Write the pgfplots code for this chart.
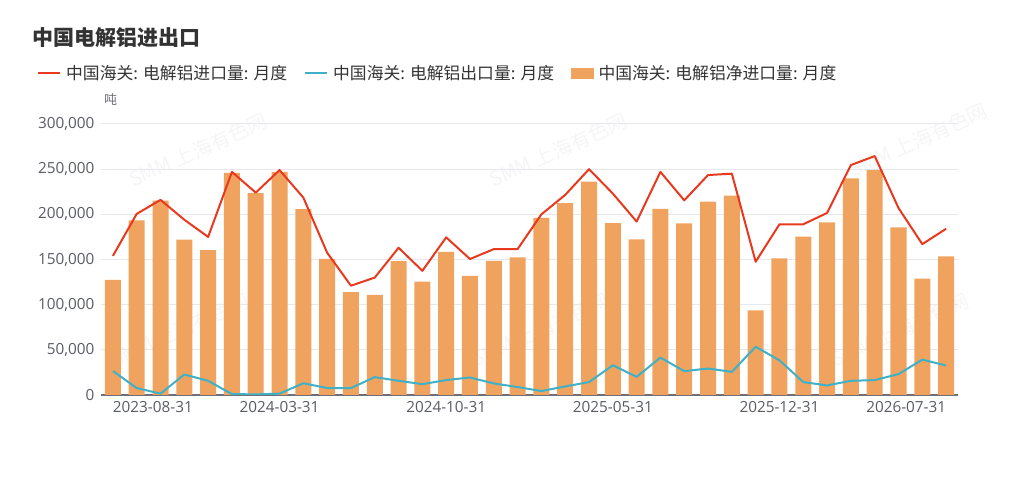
\documentclass[border=0pt]{standalone}
\usepackage{fontspec}
\usepackage{pgfplots}
\pgfplotsset{compat=1.18}
\setmainfont{Open Sans}
\newfontfamily\cjk{Noto Sans CJK SC}
\definecolor{cred}{HTML}{E8391E}
\definecolor{cblue}{HTML}{3EB1C8}
\definecolor{cbar}{HTML}{F0A35E}
\definecolor{cgrid}{HTML}{E6E8EE}
\definecolor{caxis}{HTML}{6E7079}
\definecolor{ctick}{HTML}{5A5C64}
\definecolor{ctext}{HTML}{333333}
\begin{document}
\begin{tikzpicture}
\path[use as bounding box] (0pt,0pt) rectangle (1024pt,478pt);
% watermarks
\foreach \cx/\cy in {198/328, 558/328, 918/338, 180/148, 540/148, 900/148}{
  \node[rotate=24, text=black!4, font=\cjk\fontsize{20}{22}\selectfont] at (\cx pt,\cy pt) {SMM 上海有色网};
}
\node[anchor=west, text=ctext, font=\cjk\bfseries\fontsize{21}{24}\selectfont] at (29pt,440pt) {中国电解铝进出口};
\node[anchor=west, text=caxis, font=\cjk\fontsize{13}{15}\selectfont, inner sep=0pt] at (104pt,378pt) {吨};
\begin{axis}[
  at={(101pt,83pt)}, anchor=south west,
  scale only axis, width=857pt, height=271pt,
  xmin=-0.5, xmax=35.5, ymin=0, ymax=300000,
  axis x line*=bottom, axis y line*=left,
  x axis line style={draw=caxis, line width=1.3pt},
  y axis line style={draw=none},
  major tick length=0pt,
  ytick={0,50000,...,300000},
  scaled y ticks=false,
  /pgf/number format/fixed,
  /pgf/number format/1000 sep={,},
  /pgf/number format/assume math mode=true,
  yticklabel style={font=\fontsize{15.3}{17}\selectfont, text=ctick, xshift=-3pt},
  ymajorgrids, grid style={draw=cgrid, line width=1pt},
  xtick={0,7,14,21,28,35},
  xticklabels={\makebox[0pt][l]{2023-08-31},2024-03-31,2024-10-31,2025-05-31,2025-12-31,\makebox[0pt][r]{2026-07-31}},
  xticklabel style={font=\fontsize{15.3}{17}\selectfont, text=ctick, yshift=-3pt},
  legend columns=3,
  legend style={at={(-0.0747,1.1882)}, anchor=west, draw=none, fill=none, inner sep=0pt,
    font=\cjk\fontsize{16.8}{19}\selectfont, text=ctext,
    nodes={inner xsep=5pt, inner ysep=1pt},
    /tikz/every even column/.append style={column sep=12pt}},
  legend cell align=left,
]
\addplot[ybar, bar width=16pt, fill=cbar, draw=none, forget plot] coordinates {
(0,127400)(1,193200)(2,215200)(3,172000)(4,160300)(5,246000)(6,223600)(7,247000)(8,205700)(9,150800)
(10,113800)(11,110900)(12,148200)(13,125500)(14,158500)(15,131800)(16,148600)(17,152300)(18,196200)(19,212300)
(20,236100)(21,190300)(22,172400)(23,206100)(24,190000)(25,214100)(26,220700)(27,93700)(28,151200)(29,175300)
(30,191000)(31,239700)(32,249200)(33,185600)(34,128800)(35,153400)};
\addplot[cblue, line width=2pt, line join=round, no marks, forget plot] coordinates {
(0,26500)(1,7700)(2,1500)(3,22700)(4,15700)(5,1000)(6,700)(7,1500)(8,13000)(9,7700)
(10,7700)(11,19800)(12,15700)(13,12000)(14,16500)(15,19400)(16,12800)(17,8800)(18,4400)(19,9500)
(20,14300)(21,32900)(22,20100)(23,41400)(24,26400)(25,29300)(26,25600)(27,53400)(28,38400)(29,14300)
(30,10600)(31,15700)(32,16500)(33,23100)(34,39200)(35,32600)};
\addplot[cred, line width=2pt, line join=round, no marks, forget plot] coordinates {
(0,154000)(1,200500)(2,216000)(3,194000)(4,175000)(5,247000)(6,224000)(7,249000)(8,218500)(9,157500)
(10,121000)(11,130000)(12,163000)(13,137500)(14,174500)(15,150500)(16,161500)(17,161500)(18,200000)(19,221500)
(20,250000)(21,223000)(22,192000)(23,247000)(24,215500)(25,243500)(26,245000)(27,147500)(28,189000)(29,189000)
(30,201500)(31,254500)(32,264500)(33,207000)(34,167000)(35,184000)};
\addlegendimage{legend image code/.code={\draw[cred, line width=2pt] (0pt,0pt) -- (22pt,0pt);}}
\addlegendentry{中国海关: 电解铝进口量: 月度}
\addlegendimage{legend image code/.code={\draw[cblue, line width=2pt] (0pt,0pt) -- (22pt,0pt);}}
\addlegendentry{中国海关: 电解铝出口量: 月度}
\addlegendimage{legend image code/.code={\fill[cbar] (0pt,-5pt) rectangle (22pt,5pt);}}
\addlegendentry{中国海关: 电解铝净进口量: 月度}
\end{axis}
\end{tikzpicture}
\end{document}
